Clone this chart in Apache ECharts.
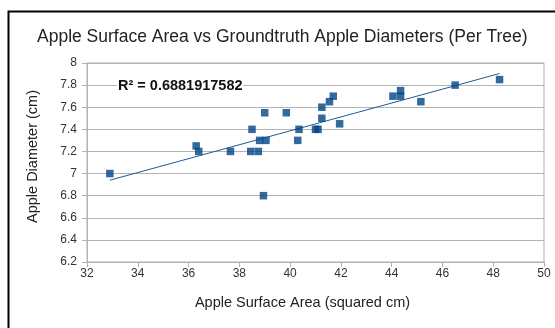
<!DOCTYPE html>
<html><head><meta charset="utf-8">
<script src="https://cdn.jsdelivr.net/npm/echarts@6/dist/echarts.min.js"></script>
<style>html,body{margin:0;padding:0;background:#fff}#c{width:555px;height:328px}</style>
</head><body><div id="c"></div>
<script>
var surfaceArea = [32.9,36.3,36.4,37.65,38.5,38.45,38.75,38.8,39.05,39.0,38.95,39.85,40.3,40.35,41.0,41.1,41.25,41.25,41.55,41.7,41.95,44.05,44.35,44.35,45.15,46.5,48.25];
var diameter    = [7.0,7.25,7.2,7.2,7.4,7.2,7.2,7.3,7.3,7.55,6.8,7.55,7.3,7.4,7.4,7.4,7.5,7.6,7.65,7.7,7.45,7.7,7.75,7.7,7.65,7.8,7.85];
var trendX = [32.9, 48.25];
var trendY = [6.94, 7.905];
var rSquaredLabel = 'R² = 0.6881917582';
var titleText = 'Apple Surface Area vs Groundtruth Apple Diameters (Per Tree)';
var xName = 'Apple Surface Area (squared cm)';
var yName = 'Apple Diameter (cm)';

var pts = surfaceArea.map(function(x,i){return [x, diameter[i]];});
var trend = trendX.map(function(x,i){return [x, trendY[i]];});
var font = 'Liberation Sans, Arial, sans-serif';
var chart = echarts.init(document.getElementById('c'), null, {renderer:'canvas'});
chart.setOption({
  animation:false,
  title:{text:titleText,left:32,top:23,textStyle:{fontFamily:font,fontSize:17.5,fontWeight:'normal',color:'#222'}},
  graphic:[
    {type:'rect',left:6,top:9,shape:{width:700,height:500},style:{fill:null,stroke:'#000',lineWidth:2},silent:true},
    {type:'text',left:117,top:77,z:100,style:{text:rSquaredLabel,font:'bold 14.5px '+font,fill:'#111',backgroundColor:'#fff',padding:[1,1,1,1]}}
  ],
  grid:{left:87,right:11,top:63,bottom:66,show:true,borderColor:'#b3b3b3',borderWidth:1,backgroundColor:'transparent'},
  xAxis:{type:'value',min:32,max:50,interval:2,name:xName,nameLocation:'middle',nameGap:33,
    nameTextStyle:{fontFamily:font,fontSize:14.5,color:'#222',padding:[0,26,0,0]},
    axisLine:{lineStyle:{color:'#b3b3b3'}},axisTick:{show:true,length:5,lineStyle:{color:'#b3b3b3'}},
    axisLabel:{fontFamily:font,fontSize:12,color:'#333',margin:6},splitLine:{show:false}},
  yAxis:{type:'value',min:6.2,max:8,interval:0.2,name:yName,nameLocation:'middle',nameGap:47,
    nameTextStyle:{fontFamily:font,fontSize:14.5,color:'#222',padding:[0,0,0,12]},
    axisLine:{show:true,lineStyle:{color:'#b3b3b3'}},axisTick:{show:true,length:5,lineStyle:{color:'#b3b3b3'}},
    axisLabel:{fontFamily:font,fontSize:12,color:'#333',margin:10,formatter:function(v){return String(+v.toFixed(1));}},
    splitLine:{show:true,lineStyle:{color:'#b3b3b3',width:1}}},
  series:[
    {type:'line',data:trend,showSymbol:false,symbol:'none',lineStyle:{color:'#1f5a96',width:1},z:2},
    {type:'scatter',data:pts,symbol:'rect',symbolSize:7.5,itemStyle:{color:'#004586'},z:3}
  ]
});
</script></body></html>
